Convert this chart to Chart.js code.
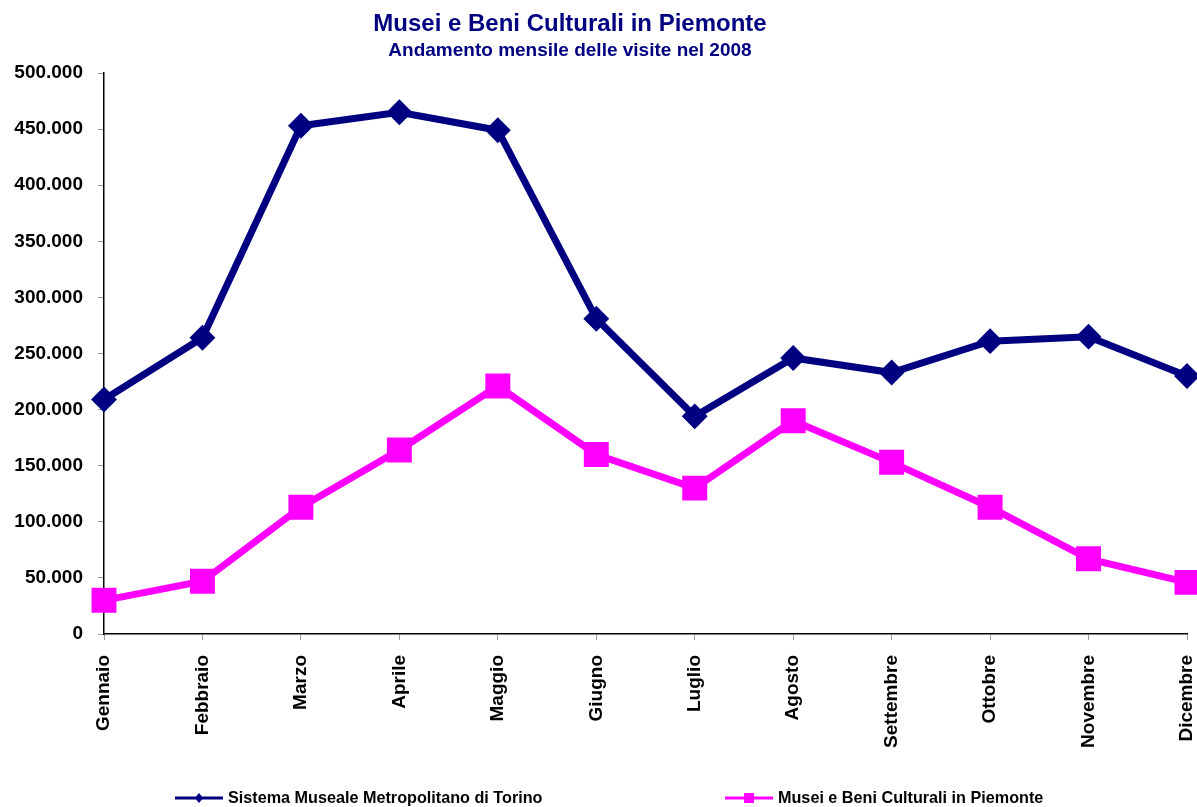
<!DOCTYPE html>
<html>
<head>
<meta charset="utf-8">
<script src="https://cdn.jsdelivr.net/npm/chart.js@4.4.1/dist/chart.umd.min.js"></script>
<style>
  body { margin: 0; background: #fff; }
  #wrap { width: 1197px; height: 807px; position: relative; }
</style>
</head>
<body>
<div id="wrap"><canvas id="myChart"></canvas></div>
<script>
const months = ['Gennaio', 'Febbraio', 'Marzo', 'Aprile', 'Maggio', 'Giugno',
    'Luglio', 'Agosto', 'Settembre', 'Ottobre', 'Novembre', 'Dicembre'];
const torino = [209000, 264000, 453000, 465000, 449000, 281000,
    194000, 246000, 233000, 261000, 265000, 230000];
const piemonte = [30000, 47000, 113000, 164000, 221000, 160000,
    130000, 190000, 153000, 113000, 67000, 46000];
const yMin = 0;
const yMax = 500000;
const yStep = 50000;

const navy = '#000080';
const magenta = '#FF00FF';
const fontFam = "'Liberation Sans', Arial, sans-serif";

function fmt(v) {
    if (v === 0) return '0';
    return String(v).replace(/\B(?=(\d{3})+(?!\d))/g, '.');
}

// title + legend drawn by hand, the office-style legend has a line through the marker
const decor = {
    id: 'decor',
    afterDraw(chart) {
        const c = chart.ctx;
        c.save();
        c.fillStyle = navy;
        c.textAlign = 'center';
        c.textBaseline = 'alphabetic';
        c.font = 'bold 24px ' + fontFam;
        c.fillText('Musei e Beni Culturali in Piemonte', 570, 31);
        c.font = 'bold 19px ' + fontFam;
        c.fillText('Andamento mensile delle visite nel 2008', 570, 56);

        const ly = 798;
        const items = [
            { x: 175, color: navy, shape: 'diamond', text: 'Sistema Museale Metropolitano di Torino' },
            { x: 725, color: magenta, shape: 'square', text: 'Musei e Beni Culturali in Piemonte' }
        ];
        items.forEach(it => {
            c.strokeStyle = it.color;
            c.fillStyle = it.color;
            c.lineWidth = 3;
            c.beginPath();
            c.moveTo(it.x, ly);
            c.lineTo(it.x + 48, ly);
            c.stroke();
            const mx = it.x + 24;
            c.beginPath();
            if (it.shape === 'diamond') {
                c.moveTo(mx, ly - 5);
                c.lineTo(mx + 4, ly);
                c.lineTo(mx, ly + 5);
                c.lineTo(mx - 4, ly);
                c.closePath();
            } else {
                c.rect(mx - 5, ly - 5, 10, 10);
            }
            c.fill();
            c.fillStyle = '#000';
            c.textAlign = 'left';
            c.textBaseline = 'middle';
            c.font = 'bold 16.2px ' + fontFam;
            c.fillText(it.text, it.x + 53, ly + 1);
        });
        c.restore();
    }
};

const ctx = document.getElementById('myChart');

new Chart(ctx, {
    type: 'line',
    data: {
        labels: months,
        datasets: [{
            label: 'Sistema Museale Metropolitano di Torino',
            data: torino,
            borderColor: navy,
            backgroundColor: navy,
            borderWidth: 7,
            pointStyle: 'rectRot',
            pointRadius: 8,
            pointHoverRadius: 8,
            tension: 0,
            clip: false
        }, {
            label: 'Musei e Beni Culturali in Piemonte',
            data: piemonte,
            borderColor: magenta,
            backgroundColor: magenta,
            borderWidth: 7,
            pointStyle: 'rect',
            pointRadius: 12.7,
            pointHoverRadius: 12.7,
            tension: 0,
            clip: false
        }]
    },
    options: {
        responsive: true,
        maintainAspectRatio: false,
        animation: false,
        layout: {
            autoPadding: false,
            padding: { top: 73, right: 10, bottom: 0, left: 0 }
        },
        plugins: {
            legend: { display: false },
            title: { display: false },
            tooltip: { enabled: false }
        },
        scales: {
            x: {
                offset: false,
                grid: {
                    drawOnChartArea: false,
                    drawTicks: true,
                    tickLength: 6,
                    tickColor: '#999999',
                    offset: false
                },
                border: { color: '#000', width: 1.5 },
                ticks: {
                    color: '#000',
                    font: { family: fontFam, size: 19, weight: 'bold' },
                    minRotation: 90,
                    maxRotation: 90,
                    autoSkip: false,
                    padding: 15
                },
                afterFit(scale) {
                    scale.height = 173;
                    scale.paddingLeft = 0;
                    scale.paddingRight = 0;
                }
            },
            y: {
                min: yMin,
                max: yMax,
                grid: {
                    drawOnChartArea: false,
                    drawTicks: true,
                    tickLength: 6,
                    tickColor: '#999999'
                },
                border: { color: '#000', width: 1.5 },
                ticks: {
                    stepSize: yStep,
                    color: '#000',
                    padding: 15,
                    font: { family: fontFam, size: 19, weight: 'bold' },
                    callback: v => fmt(v)
                },
                afterFit(scale) { scale.width = 104; }
            }
        }
    },
    plugins: [decor]
});
</script>
</body>
</html>
